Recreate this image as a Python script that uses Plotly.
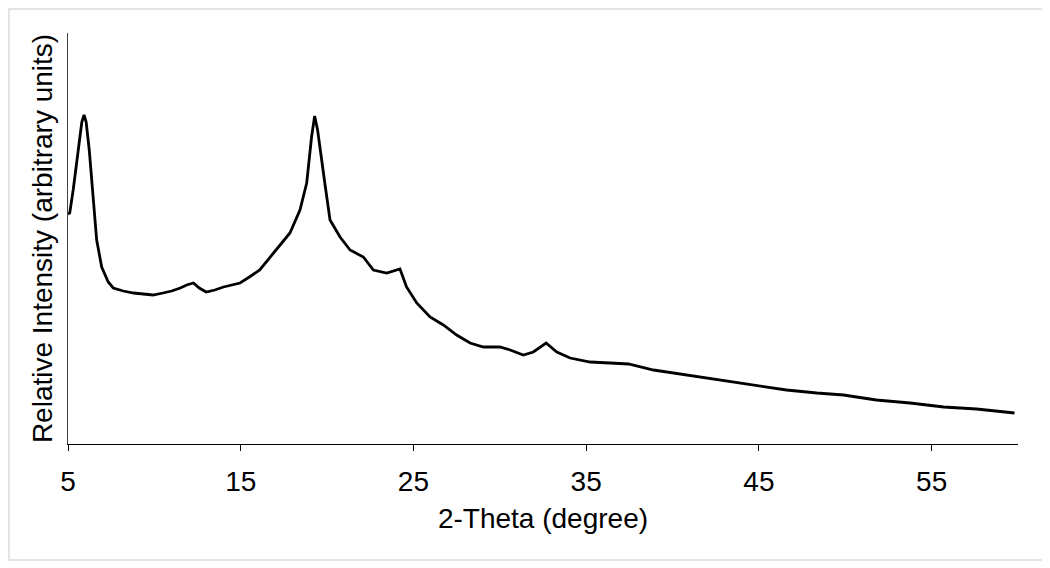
import plotly.graph_objects as go

# 2-Theta (degree) positions
two_theta = [5.0, 5.1, 5.3, 5.6, 5.8, 5.93, 6.05, 6.23, 6.46, 6.66, 6.95, 7.33, 7.62,
             8.2, 8.8, 9.4, 9.92, 10.5, 11.0, 11.5, 11.87, 12.26, 12.6, 13.0, 13.5,
             14.0, 14.5, 14.96, 15.5, 16.1, 16.9, 17.85, 18.43, 18.82, 19.1, 19.28,
             19.45, 19.6, 19.9, 20.17, 20.75, 21.33, 22.1, 22.68, 23.45, 24.22, 24.6,
             25.19, 25.96, 26.73, 27.5, 28.28, 29.05, 30.0, 30.6, 31.36, 31.94, 32.68,
             33.3, 34.07, 35.23, 36.38, 37.45, 38.9, 40.8, 42.75, 44.68, 46.6, 48.35,
             49.9, 51.8, 53.75, 55.7, 57.6, 59.8]

# Relative intensity (arbitrary units)
intensity = [230, 231, 254, 294, 322, 329, 322, 294, 244, 204, 177, 162, 156,
             153, 151, 150, 149, 151, 153, 156, 159, 161, 156, 152, 154,
             157, 159, 161, 167, 174, 191, 211, 234, 261, 307, 328,
             314, 294, 257, 224, 207, 194, 187, 174, 171, 175, 157,
             141, 127, 119, 109, 101, 97, 97, 94, 89, 92, 101,
             92, 86, 82, 81, 80, 74, 69, 64, 59, 54, 51,
             49, 44, 41, 37, 35, 31]

x_ticks = [5, 15, 25, 35, 45, 55]

fig = go.Figure()
fig.add_trace(go.Scatter(x=two_theta, y=intensity, mode="lines",
                         line=dict(color="black", width=2.8), showlegend=False))

font = "Liberation Sans, Arial, sans-serif"
fig.update_layout(
    width=1042, height=560,
    paper_bgcolor="white", plot_bgcolor="white",
    margin=dict(l=60, r=32, t=25, b=124),
    font=dict(family=font, size=28, color="black"),
    xaxis=dict(range=[5, 60], tickvals=x_ticks, ticks="outside", ticklen=6,
               tickcolor="black", showline=True, linecolor="black", linewidth=1,
               showgrid=False, zeroline=False, tickfont=dict(size=28),
               ticklabelstandoff=6,
               title=dict(text="2-Theta (degree)", font=dict(size=28), standoff=12)),
    yaxis=dict(range=[0, 411], showticklabels=False, ticks="", showline=True,
               linecolor="#404040", linewidth=1, showgrid=False, zeroline=False,
               title=dict(text="Relative Intensity (arbitrary units)", font=dict(size=28),
                          standoff=6)),
)
fig.add_shape(type="rect", xref="paper", yref="paper",
              x0=(9 - 68) / 950, x1=(1043 - 68) / 950,
              y0=(444 - 560) / 411, y1=(444 - 9) / 411,
              line=dict(color="#d9dce1", width=1.5), fillcolor="rgba(0,0,0,0)", layer="below")

fig.write_html("out.html")
